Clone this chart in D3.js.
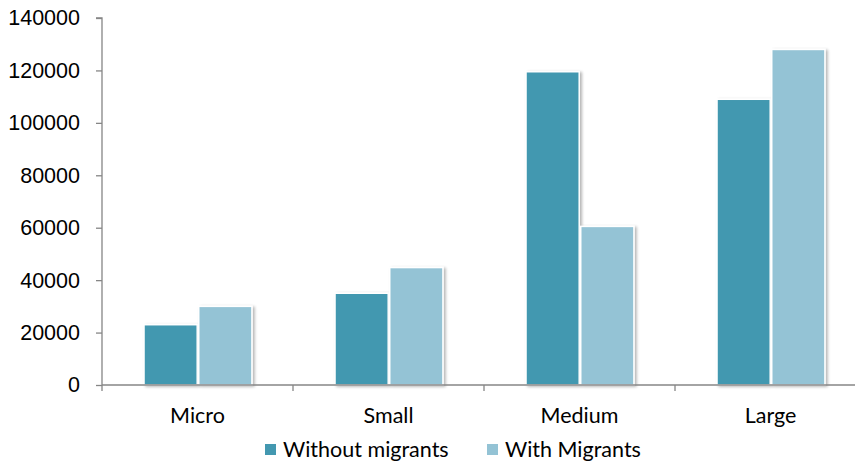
<!DOCTYPE html>
<html>
<head>
<meta charset="utf-8">
<script src="https://cdn.jsdelivr.net/npm/d3@7/dist/d3.min.js"></script>
<style>
  html, body { margin: 0; padding: 0; background: #fff; }
  svg { display: block; font-family: "Lato", sans-serif; }
</style>
</head>
<body>
<svg id="chart" width="857" height="466"></svg>
<script>
// Enterprise size classes and the two series
const categories = ["Micro", "Small", "Medium", "Large"];
const withoutMigrants = [23000, 35000, 119500, 109000];
const withMigrants = [30000, 44800, 60500, 128000];
const seriesNames = ["Without migrants", "With Migrants"];
const yTicks = [0, 20000, 40000, 60000, 80000, 100000, 120000, 140000];

const colors = ["#4398b0", "#94c3d5"];
const svg = d3.select("#chart");
const W = 857, H = 466;
const plotLeft = 102, plotRight = 866, plotTop = 18, plotBottom = 385;
const fontSize = 21.5;

const x = d3.scaleBand().domain(categories).range([plotLeft, plotRight]);
const y = d3.scaleLinear().domain([0, 140000]).range([plotBottom, plotTop]);

// two bars side by side in the middle of each category band
const groupInner = d3.scaleBand().domain(seriesNames)
  .range([x.bandwidth() * 0.22, x.bandwidth() * 0.785]).paddingInner(0.028);

const defs = svg.append("defs");
const f = defs.append("filter").attr("id", "shadow").attr("x", "-20%").attr("y", "-20%").attr("width", "140%").attr("height", "140%");
f.append("feGaussianBlur").attr("in", "SourceAlpha").attr("stdDeviation", 1.6).attr("result", "b");
f.append("feOffset").attr("in", "b").attr("dx", 2).attr("dy", 1).attr("result", "o");
f.append("feComponentTransfer").attr("in", "o").attr("result", "s")
  .append("feFuncA").attr("type", "linear").attr("slope", 0.3);
const m = f.append("feMerge");
m.append("feMergeNode").attr("in", "s");
m.append("feMergeNode").attr("in", "SourceGraphic");

// Bars
const data = [withoutMigrants, withMigrants];
categories.forEach((c, i) => {
  seriesNames.forEach((s, j) => {
    const v = data[j][i];
    svg.append("rect")
      .attr("x", x(c) + groupInner(s))
      .attr("y", y(v))
      .attr("width", groupInner.bandwidth())
      .attr("height", y(0) - y(v))
      .attr("fill", colors[j])
      .attr("stroke", "#ffffff")
      .attr("stroke-width", 1.5)
      .attr("filter", "url(#shadow)");
  });
});

// Y axis
const yAxis = d3.axisLeft(y).tickValues(yTicks).tickSize(6).tickPadding(16).tickFormat(d3.format("d"));
const gy = svg.append("g").attr("transform", `translate(${plotLeft},0)`).call(yAxis);
gy.select(".domain").attr("stroke", "#868686").attr("stroke-width", 1.3).attr("d", `M-6,${y(140000)}H0V${y(0)}`);
gy.selectAll(".tick line").attr("stroke", "#868686").attr("stroke-width", 1.3);
gy.selectAll(".tick text").attr("font-size", fontSize).attr("fill", "#000");

// X axis
const gx = svg.append("g").attr("transform", `translate(0,${y(0)})`);
gx.append("line").attr("x1", plotLeft).attr("x2", 855).attr("stroke", "#868686").attr("stroke-width", 1.3);
const boundaries = categories.map(c => x(c)).concat([x(categories[categories.length - 1]) + x.bandwidth()]);
gx.selectAll("line.tk").data(boundaries).join("line").attr("class", "tk")
  .attr("x1", d => d).attr("x2", d => d).attr("y1", 0).attr("y2", 6)
  .attr("stroke", "#868686").attr("stroke-width", 1.3);
gx.selectAll("text").data(categories).join("text")
  .attr("x", d => x(d) + x.bandwidth() / 2).attr("y", 38)
  .attr("text-anchor", "middle").attr("font-size", fontSize).attr("fill", "#000").text(d => d);

// Legend
const legend = svg.append("g").attr("transform", `translate(265,450)`);
const legendX = [0, 222];
seriesNames.forEach((s, j) => {
  const g = legend.append("g").attr("transform", `translate(${legendX[j]},0)`);
  g.append("rect").attr("x", 0).attr("y", -6).attr("width", 11).attr("height", 11).attr("fill", colors[j]);
  g.append("text").attr("x", 18).attr("y", 7).attr("font-size", fontSize).attr("fill", "#000").text(s);
});
</script>
</body>
</html>
